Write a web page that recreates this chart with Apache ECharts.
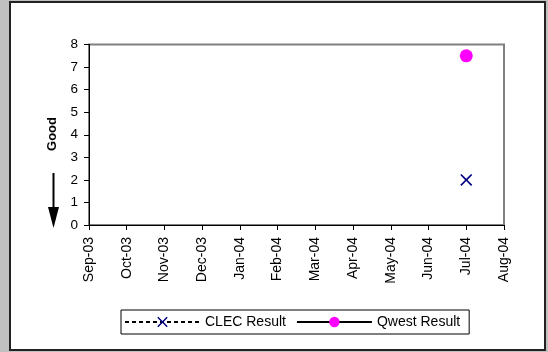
<!DOCTYPE html>
<html>
<head>
<meta charset="utf-8">
<script src="https://cdn.jsdelivr.net/npm/echarts@6/dist/echarts.min.js"></script>
<style>
  html, body { margin: 0; padding: 0; background: #c0c0c0; }
  #chart { width: 548px; height: 352px; }
</style>
</head>
<body>
<div id="chart"></div>
<script>
// Monthly categories along the x axis
const months = ['Sep-03', 'Oct-03', 'Nov-03', 'Dec-03', 'Jan-04', 'Feb-04',
                'Mar-04', 'Apr-04', 'May-04', 'Jun-04', 'Jul-04', 'Aug-04'];
// Results per month (null = no value reported)
const clecResult  = [null, null, null, null, null, null, null, null, null, null, 2, null];
const qwestResult = [null, null, null, null, null, null, null, null, null, null, 7.5, null];
// Y axis range
const yMin = 0, yMax = 8, yStep = 1;

const FONT = 'Liberation Sans, Arial, sans-serif';
const crossPath = 'path://M0,1 L1,0 L5,4 L9,0 L10,1 L6,5 L10,9 L9,10 L5,6 L1,10 L0,9 L4,5 Z';

const chart = echarts.init(document.getElementById('chart'), null, { renderer: 'canvas' });
chart.setOption({
  animation: false,
  backgroundColor: '#c0c0c0',
  textStyle: { fontFamily: FONT },
  graphic: [
    { type: 'rect', z: -10, silent: true,
      shape: { x: 10, y: 2, width: 535, height: 348 },
      style: { fill: '#ffffff', stroke: '#222222', lineWidth: 2 } },
    { type: 'text', z: 5, silent: true, x: 52, y: 134, rotation: Math.PI / 2,
      style: { text: 'Good', font: 'bold 13px ' + FONT, fill: '#000',
               align: 'center', verticalAlign: 'middle' } },
    { type: 'line', z: 5, silent: true,
      shape: { x1: 53.5, y1: 173, x2: 53.5, y2: 210 },
      style: { stroke: '#000', lineWidth: 2 } },
    { type: 'polygon', z: 5, silent: true,
      shape: { points: [[48, 207], [59, 207], [53.5, 228]] },
      style: { fill: '#000' } }
  ],
  grid: { left: 89, right: 44, top: 44.5, bottom: 127, show: true,
          borderColor: '#808080', borderWidth: 2, backgroundColor: '#ffffff' },
  legend: {
    bottom: 18, left: 121,
    itemWidth: 75, itemHeight: 13, itemGap: 10,
    padding: [5, 9, 5, 3],
    borderColor: '#000', borderWidth: 1, backgroundColor: '#fff',
    lineStyle: { width: 2 },
    textStyle: { fontFamily: FONT, fontSize: 14, color: '#000' },
    data: ['CLEC Result', 'Qwest Result']
  },
  xAxis: {
    type: 'category', data: months, boundaryGap: false,
    axisLine: { lineStyle: { color: '#000', width: 1 } },
    axisTick: { show: true, length: 5, alignWithLabel: true, lineStyle: { color: '#000' } },
    axisLabel: { rotate: 90, color: '#000', fontSize: 14, fontFamily: FONT, margin: 12, interval: 0 },
    splitLine: { show: false }
  },
  yAxis: {
    type: 'value', min: yMin, max: yMax, interval: yStep,
    axisLine: { show: true, lineStyle: { color: '#000', width: 1 } },
    axisTick: { show: true, length: 5, lineStyle: { color: '#000' } },
    axisLabel: { color: '#000', fontSize: 13.5, fontFamily: FONT, margin: 11 },
    splitLine: { show: false }
  },
  series: [
    { name: 'CLEC Result', type: 'line', data: clecResult,
      symbol: crossPath, symbolSize: 12, connectNulls: false,
      lineStyle: { color: '#000', width: 2, type: [4, 3] },
      itemStyle: { color: '#000080' } },
    { name: 'Qwest Result', type: 'line', data: qwestResult,
      symbol: 'circle', symbolSize: 13, connectNulls: false,
      lineStyle: { color: '#000', width: 2, type: 'solid' },
      itemStyle: { color: '#ff00ff' } }
  ]
});
</script>
</body>
</html>
